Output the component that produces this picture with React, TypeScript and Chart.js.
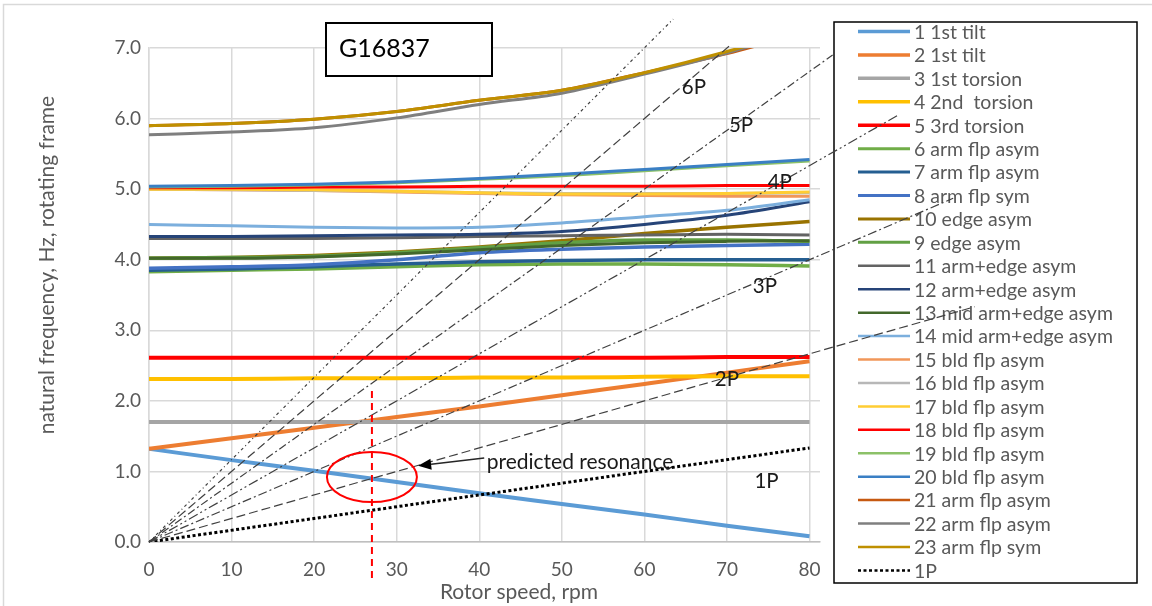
import React, { useEffect, useRef } from "react";
import { Chart, registerables } from "chart.js";

Chart.register(...registerables);

// ---------------- DATA ----------------
const rpm = [0, 10, 20, 30, 40, 50, 60, 70, 80];

const seriesLabels = [
  "1 1st tilt", "2 1st tilt", "3 1st torsion", "4 2nd  torsion", "5 3rd torsion",
  "6 arm flp asym", "7 arm flp asym", "8 arm flp sym", "10 edge asym", "9 edge asym",
  "11 arm+edge asym", "12 arm+edge asym", "13 mid arm+edge asym", "14 mid arm+edge asym",
  "15 bld flp asym", "16 bld flp asym", "17 bld flp asym", "18 bld flp asym",
  "19 bld flp asym", "20 bld flp asym", "21 arm flp asym", "22 arm flp asym", "23 arm flp sym",
];

const tilt1 = [1.32, 1.16, 1.01, 0.85, 0.69, 0.54, 0.39, 0.23, 0.08];
const tilt2 = [1.32, 1.47, 1.62, 1.77, 1.92, 2.08, 2.24, 2.4, 2.56];
const torsion1 = [1.7, 1.7, 1.7, 1.7, 1.7, 1.7, 1.7, 1.7, 1.7];
const torsion2 = [2.31, 2.31, 2.32, 2.32, 2.33, 2.33, 2.34, 2.35, 2.35];
const torsion3 = [2.61, 2.61, 2.61, 2.61, 2.61, 2.61, 2.61, 2.62, 2.62];
const armFlpAsym6 = [3.83, 3.85, 3.87, 3.9, 3.93, 3.94, 3.94, 3.93, 3.91];
const armFlpAsym7 = [3.85, 3.87, 3.9, 3.94, 3.97, 3.99, 4.0, 4.0, 4.0];
const armFlpSym8 = [3.88, 3.9, 3.93, 4.0, 4.1, 4.15, 4.18, 4.2, 4.22];
const edgeAsym10 = [4.02, 4.03, 4.06, 4.11, 4.18, 4.27, 4.37, 4.46, 4.54];
const edgeAsym9 = [4.02, 4.03, 4.05, 4.1, 4.17, 4.24, 4.28, 4.28, 4.26];
const armEdgeAsym11 = [4.3, 4.3, 4.3, 4.31, 4.33, 4.34, 4.35, 4.36, 4.35];
const armEdgeAsym12 = [4.33, 4.33, 4.34, 4.35, 4.36, 4.4, 4.5, 4.63, 4.82];
const midArmEdgeAsym13 = [4.02, 4.02, 4.04, 4.08, 4.14, 4.2, 4.24, 4.26, 4.27];
const midArmEdgeAsym14 = [4.5, 4.48, 4.46, 4.45, 4.46, 4.52, 4.61, 4.7, 4.85];
const bldFlpAsym15 = [5.0, 4.99, 4.98, 4.96, 4.94, 4.92, 4.91, 4.9, 4.9];
const bldFlpAsym16 = [5.0, 4.99, 4.98, 4.97, 4.95, 4.94, 4.94, 4.94, 4.95];
const bldFlpAsym17 = [5.0, 5.0, 4.99, 4.97, 4.95, 4.93, 4.93, 4.94, 4.96];
const bldFlpAsym18 = [5.02, 5.02, 5.03, 5.03, 5.04, 5.04, 5.04, 5.05, 5.05];
const bldFlpAsym19 = [5.03, 5.04, 5.06, 5.09, 5.14, 5.19, 5.26, 5.33, 5.4];
const bldFlpAsym20 = [5.04, 5.05, 5.07, 5.1, 5.15, 5.21, 5.28, 5.35, 5.42];
const armFlpAsym21 = [5.9, 5.93, 5.99, 6.1, 6.26, 6.4, 6.65, 6.92, 7.24];
const armFlpAsym22 = [5.77, 5.81, 5.87, 6.01, 6.2, 6.36, 6.63, 6.93, 7.28];
const armFlpSym23 = [5.9, 5.93, 5.99, 6.1, 6.26, 6.4, 6.65, 6.95, 7.3];

const seriesValues = [
  tilt1, tilt2, torsion1, torsion2, torsion3,
  armFlpAsym6, armFlpAsym7, armFlpSym8, edgeAsym10, edgeAsym9,
  armEdgeAsym11, armEdgeAsym12, midArmEdgeAsym13, midArmEdgeAsym14,
  bldFlpAsym15, bldFlpAsym16, bldFlpAsym17, bldFlpAsym18,
  bldFlpAsym19, bldFlpAsym20, armFlpAsym21, armFlpAsym22, armFlpSym23,
];

// excitation (nP) lines, end points in (rpm, Hz)
const line1P = [{ x: 0, y: 0 }, { x: 80, y: 1.333 }];
const line2P = [{ x: 0, y: 0 }, { x: 100, y: 3.333 }];
const line3P = [{ x: 0, y: 0 }, { x: 97.4, y: 4.87 }];
const line4P = [{ x: 0, y: 0 }, { x: 90.6, y: 6.04 }];
const line5P = [{ x: 0, y: 0 }, { x: 82.8, y: 6.9 }];
const line6P = [{ x: 0, y: 0 }, { x: 70.5, y: 7.05 }];
const line7P = [{ x: 0, y: 0 }, { x: 63.5, y: 7.41 }];

const pLabels = ["1P", "2P", "3P", "4P", "5P", "6P"];
const pLabelRpm = [74.8, 70.0, 74.6, 76.4, 71.7, 66.0];
const pLabelHz = [0.86, 2.3, 3.62, 5.1, 5.91, 6.44];

// predicted resonance
const resonanceRpm = 27;
const resonanceHz = 0.92;
const resonanceMarker = [{ x: 27, y: 2.14 }, { x: 27, y: -0.55 }];
const resonanceText = "predicted resonance";
const resonanceArrowFrom = { x: 40.6, y: 1.19 };
const resonanceArrowTo = { x: 32.6, y: 1.08 };
const resonanceTextAt = { x: 40.9, y: 1.13 };

const chartTag = "G16837";
const xTitle = "Rotor speed, rpm";
const yTitle = "natural frequency, Hz, rotating frame";
const xTicks = [0, 10, 20, 30, 40, 50, 60, 70, 80];
const yTicks = [0, 1, 2, 3, 4, 5, 6, 7];

// ---------------- STYLES ----------------
const FONT = "Lato, 'Open Sans', sans-serif";
const seriesColors = [
  "#5B9BD5", "#ED7D31", "#A5A5A5", "#FFC000", "#FF0000",
  "#70AD47", "#255E91", "#4472C4", "#997300", "#62A044",
  "#636363", "#264478", "#43682B", "#7CAFDD",
  "#F1975A", "#B7B7B7", "#FFCD33", "#FF0000",
  "#8CC168", "#3A7FC4", "#C65911", "#7F7F7F", "#BF9000",
];
const seriesWidths = [
  4, 4, 4, 4, 4, 3.5, 3.5, 3.5, 3.5, 3.5,
  3, 3, 3, 3, 3, 3, 3, 3, 3, 3, 3, 3, 3,
];

const pLineStyles = [
  { data: line2P, dash: [9, 4] },
  { data: line3P, dash: [9, 3, 2, 3] },
  { data: line4P, dash: [10, 3, 2, 3, 2, 3] },
  { data: line5P, dash: [8, 3, 2, 3] },
  { data: line6P, dash: [9, 4] },
  { data: line7P, dash: [3, 3, 1, 3] },
];

function toPoints(vals: number[]) {
  return vals.map((v, i) => ({ x: rpm[i], y: v }));
}

const overlayPlugin = {
  id: "overlay",
  beforeDraw(chart: any) {
    const ctx = chart.ctx;
    ctx.save();
    ctx.fillStyle = "#ffffff";
    ctx.fillRect(0, 0, chart.width, chart.height);
    ctx.strokeStyle = "#d9d9d9";
    ctx.lineWidth = 1.5;
    ctx.strokeRect(3.5, 4.5, chart.width + 10, chart.height + 10);
    ctx.restore();
  },
  beforeDatasetsDraw(chart: any) {
    const ctx = chart.ctx;
    ctx.save();
    // legend box
    const L = 834, T = 22, R = 1137, B = 583;
    ctx.fillStyle = "#ffffff";
    ctx.fillRect(L, T, R - L, B - T);
    ctx.strokeStyle = "#000000";
    ctx.lineWidth = 1.5;
    ctx.strokeRect(L, T, R - L, B - T);
    const items = chart.data.datasets.filter((d: any) => d.showInLegend);
    const step = 23.43;
    ctx.font = `19.5px ${FONT}`;
    ctx.textBaseline = "middle";
    ctx.textAlign = "left";
    items.forEach((d: any, i: number) => {
      const y = 31.5 + i * step;
      ctx.beginPath();
      ctx.setLineDash(d.borderDash || []);
      ctx.strokeStyle = d.borderColor;
      ctx.lineWidth = d.legendWidth;
      ctx.moveTo(858, y);
      ctx.lineTo(910, y);
      ctx.stroke();
      ctx.setLineDash([]);
      ctx.fillStyle = "#595959";
      ctx.fillText(d.label, 914, y + 1);
    });
    ctx.restore();
  },
  afterDatasetsDraw(chart: any) {
    const ctx = chart.ctx;
    const xs = chart.scales.x;
    const ys = chart.scales.y;
    ctx.save();
    // nP labels
    ctx.fillStyle = "#1a1a1a";
    ctx.font = `20.5px ${FONT}`;
    ctx.textAlign = "center";
    ctx.textBaseline = "middle";
    pLabels.forEach((t, i) => {
      ctx.fillText(t, xs.getPixelForValue(pLabelRpm[i]), ys.getPixelForValue(pLabelHz[i]));
    });
    // ellipse
    ctx.beginPath();
    ctx.strokeStyle = "#FF0000";
    ctx.lineWidth = 2;
    ctx.ellipse(xs.getPixelForValue(resonanceRpm), ys.getPixelForValue(resonanceHz), 45, 25, 0, 0, Math.PI * 2);
    ctx.stroke();
    // arrow
    const ax0 = xs.getPixelForValue(resonanceArrowFrom.x), ay0 = ys.getPixelForValue(resonanceArrowFrom.y);
    const ax1 = xs.getPixelForValue(resonanceArrowTo.x), ay1 = ys.getPixelForValue(resonanceArrowTo.y);
    const ang = Math.atan2(ay1 - ay0, ax1 - ax0);
    const hl = 13, hw = 5.5;
    const bx = ax1 - hl * Math.cos(ang), by = ay1 - hl * Math.sin(ang);
    ctx.beginPath();
    ctx.strokeStyle = "#262626";
    ctx.lineWidth = 1.5;
    ctx.moveTo(ax0, ay0);
    ctx.lineTo(bx, by);
    ctx.stroke();
    ctx.beginPath();
    ctx.fillStyle = "#000000";
    ctx.moveTo(ax1, ay1);
    ctx.lineTo(bx + hw * Math.sin(ang), by - hw * Math.cos(ang));
    ctx.lineTo(bx - hw * Math.sin(ang), by + hw * Math.cos(ang));
    ctx.closePath();
    ctx.fill();
    // resonance text
    ctx.fillStyle = "#1a1a1a";
    ctx.font = `21px ${FONT}`;
    ctx.textAlign = "left";
    ctx.fillText(resonanceText, xs.getPixelForValue(resonanceTextAt.x), ys.getPixelForValue(resonanceTextAt.y));
    // tag box
    ctx.fillStyle = "#ffffff";
    ctx.fillRect(326, 23, 166, 53);
    ctx.strokeStyle = "#000000";
    ctx.lineWidth = 2;
    ctx.strokeRect(326, 23, 166, 53);
    ctx.fillStyle = "#000000";
    ctx.font = `25px ${FONT}`;
    ctx.fillText(chartTag, 339, 49);
    // axis titles
    ctx.fillStyle = "#595959";
    ctx.font = `21px ${FONT}`;
    ctx.textAlign = "center";
    ctx.fillText(xTitle, 519, 592);
    ctx.translate(47, 265);
    ctx.rotate(-Math.PI / 2);
    ctx.fillText(yTitle, 0, 0);
    ctx.restore();
  },
};

export default function App() {
  const ref = useRef<HTMLCanvasElement>(null);
  useEffect(() => {
    document.body.style.margin = "0";
    Chart.defaults.font.family = FONT;
    const n = seriesValues.length;
    const datasets: any[] = seriesValues.map((vals, i) => ({
      label: seriesLabels[i],
      data: toPoints(vals),
      borderColor: seriesColors[i],
      backgroundColor: seriesColors[i],
      borderWidth: seriesWidths[i],
      legendWidth: seriesWidths[i] - 0.5,
      pointRadius: 0,
      cubicInterpolationMode: "monotone",
      fill: false,
      showInLegend: true,
      order: -i,
    }));
    datasets.push({
      label: "1P",
      data: line1P,
      borderColor: "#000000",
      borderWidth: 3,
      legendWidth: 2.5,
      borderDash: [3, 2.5],
      pointRadius: 0,
      fill: false,
      showInLegend: true,
      order: -n - 1,
    });
    pLineStyles.forEach((p, i) => {
      datasets.push({
        label: `${i + 2}P`,
        data: p.data,
        borderColor: "#404040",
        borderWidth: 1.2,
        borderDash: p.dash,
        pointRadius: 0,
        fill: false,
        clip: false,
        showInLegend: false,
        order: -n - 2 - i,
      });
    });
    datasets.push({
      label: "resonance rpm",
      data: resonanceMarker,
      borderColor: "#FF0000",
      borderWidth: 2,
      borderDash: [7, 5],
      pointRadius: 0,
      fill: false,
      clip: false,
      showInLegend: false,
      order: -n - 20,
    });

    const chart = new Chart(ref.current as HTMLCanvasElement, {
      type: "line",
      data: { datasets },
      options: {
        animation: false,
        responsive: false,
        devicePixelRatio: 1,
        layout: { padding: { left: 0, top: 48, right: 332, bottom: 0 } },
        plugins: { legend: { display: false }, tooltip: { enabled: false } },
        scales: {
          x: {
            type: "linear",
            min: 0,
            max: 81.27,
            afterFit: (s: any) => { s.height = 64; },
            afterBuildTicks: (s: any) => { s.ticks = xTicks.map((v) => ({ value: v })); },
            ticks: {
              color: "#595959",
              font: { size: 19, family: FONT },
              padding: 16,
              maxRotation: 0,
              callback: (v: any) => String(v),
            },
            grid: { color: "#d9d9d9", lineWidth: 1.5, drawTicks: false },
            border: { color: "#bfbfbf", width: 1.5 },
          },
          y: {
            type: "linear",
            min: 0,
            max: 7,
            afterFit: (s: any) => { s.width = 149; },
            afterBuildTicks: (s: any) => { s.ticks = yTicks.map((v) => ({ value: v })); },
            ticks: {
              color: "#595959",
              font: { size: 19, family: FONT },
              padding: 8,
              callback: (v: any) => Number(v).toFixed(1),
            },
            grid: { color: "#d9d9d9", lineWidth: 1.5, drawTicks: false },
            border: { color: "#d9d9d9", width: 1.5 },
          },
        },
      } as any,
      plugins: [overlayPlugin],
    });
    return () => chart.destroy();
  }, []);
  return (
    <canvas
      ref={ref}
      width={1152}
      height={606}
      style={{ display: "block", width: 1152, height: 606 }}
    />
  );
}
